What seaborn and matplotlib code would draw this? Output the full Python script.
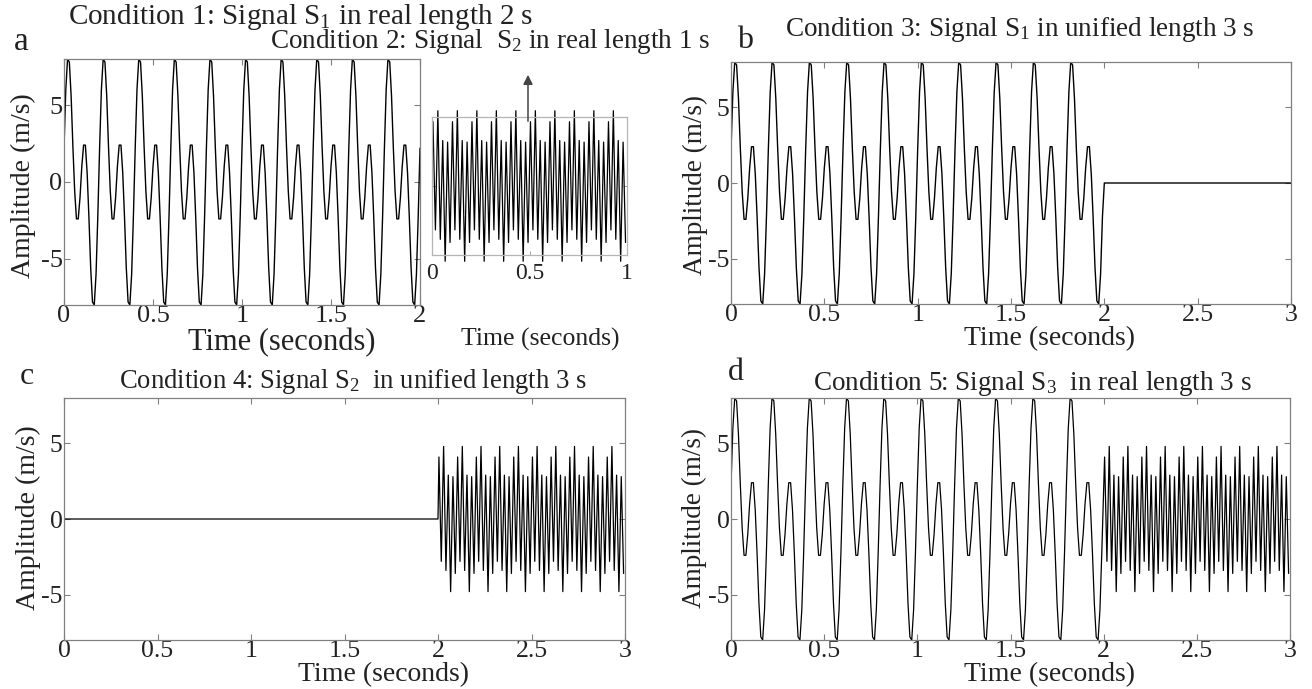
import numpy as np
import matplotlib
matplotlib.use('Agg')
import matplotlib.pyplot as plt
import seaborn as sns

# ---- data ----
# S1: one 0.2 s period, sampled every 0.01 s (m/s); repeats 10x over 2 s
s1_period = [2.2, 6.0, 8.0, 7.8, 5.6, 2.3, -0.6, -2.4, -2.4, -1.0,
             1.0, 2.4, 2.4, 0.6, -2.3, -5.6, -7.8, -8.0, -6.0, -2.2]
s1_dt = 0.01
s1_repeats = 10

# S2: extrema of one 0.1 s period, every 0.0125 s starting at 0.005 s; repeats 10x over 1 s
s2_period = [4.1, -2.8, 4.8, -3.4, 2.9, -4.8, 2.8, -3.6]
s2_dt = 0.0125
s2_t0 = 0.005
s2_repeats = 10

titles = ['Condition 1: Signal S$_1$ in real length 2 s',
          'Condition 2: Signal  S$_2$ in real length 1 s',
          'Condition 3: Signal S$_1$ in unified length 3 s',
          'Condition 4: Signal S$_2$  in unified length 3 s',
          'Condition 5: Signal S$_3$  in real length 3 s']
panel_letters = ['a', 'b', 'c', 'd']
x_ticks_2s = [0, 0.5, 1, 1.5, 2]
x_ticks_3s = [0, 0.5, 1, 1.5, 2, 2.5, 3]
x_labels_2s = ['0', '0.5', '1', '1.5', '2']
x_labels_3s = ['0', '0.5', '1', '1.5', '2', '2.5', '3']
inset_ticks = [0, 0.5, 1]
inset_labels = ['0', '0.5', '1']
y_ticks = [-5, 0, 5]
y_labels = ['-5', '0', '5']

# ---- build the series ----
s1 = np.tile(s1_period, s1_repeats)
t1 = np.arange(len(s1)) * s1_dt                  # 0 .. 1.99
t1_full = np.append(t1, len(s1) * s1_dt)         # with t = 2 s
s1_full = np.append(s1, s1_period[0])
s2 = np.tile(s2_period, s2_repeats)
t2 = s2_t0 + np.arange(len(s2)) * s2_dt
pad_t = np.arange(0, 101) * 0.01                 # 1 s of zeros

sns.set_style('ticks')
plt.rcParams['font.family'] = ['Liberation Serif', 'DejaVu Serif']
plt.rcParams['mathtext.fontset'] = 'custom'
plt.rcParams['mathtext.rm'] = 'Liberation Serif'
plt.rcParams['mathtext.it'] = 'Liberation Serif:italic'

W, H = 1312, 689
fig = plt.figure(figsize=(W / 100, H / 100), dpi=100)


def box(l, t, r, b):
    return [l / W, 1 - b / H, (r - l) / W, (b - t) / H]


def ftext(x, y, s, size, **kw):
    fig.text(x / W, 1 - y / H, s, fontsize=size, ha='center', va='center', color='#222222', **kw)


def style(ax, xt, xl, xmax, lsize=19):
    ax.set_xlim(0, xmax)
    ax.set_ylim(-8, 8)
    ax.set_xticks(xt)
    ax.set_xticklabels(xl)
    ax.set_yticks(y_ticks)
    ax.set_yticklabels(y_labels)
    ax.tick_params(direction='in', length=4, width=0.8, color='#808080', top=True, right=True,
                   labelsize=lsize, labelcolor='#222222')
    ax.tick_params(axis='x', pad=0)
    ax.tick_params(axis='y', pad=1)
    for sp in ax.spines.values():
        sp.set_color('#808080')
        sp.set_linewidth(0.9)
    ax.set_xlabel('')
    ax.set_ylabel('')


line_kw = dict(color='black', linewidth=1.0, estimator=None, sort=False)

# a: S1 in real length
ax_a = fig.add_axes(box(64, 59, 420, 305))
sns.lineplot(x=t1_full, y=s1_full, ax=ax_a, **line_kw)
style(ax_a, x_ticks_2s, x_labels_2s, 2, lsize=19)

# inset: S2 in real length
ax_in = fig.add_axes(box(432, 117, 627, 255))
sns.lineplot(x=t2, y=s2, ax=ax_in, color='black', linewidth=0.9, estimator=None, sort=False)
ax_in.lines[-1].set_clip_on(False)
ax_in.set_xlim(0, 1)
ax_in.set_ylim(-4.4, 4.4)
ax_in.set_xticks(inset_ticks)
ax_in.set_xticklabels(inset_labels)
ax_in.set_yticks([0])
ax_in.set_yticklabels([])
ax_in.tick_params(direction='in', length=3, width=0.7, color='#a0a0a0', right=True,
                  labelsize=17, labelcolor='#222222', pad=6)
for sp in ax_in.spines.values():
    sp.set_color('#b5b5b5')
    sp.set_linewidth(0.9)
ax_in.set_xlabel('')
ax_in.set_ylabel('')

# b: S1 padded to 3 s
ax_b = fig.add_axes(box(731, 62, 1291, 304))
sns.lineplot(x=np.concatenate([t1, 2 + pad_t]), y=np.concatenate([s1, np.zeros(len(pad_t))]),
             ax=ax_b, **line_kw)
style(ax_b, x_ticks_3s, x_labels_3s, 3, lsize=18.5)

# c: S2 padded to 3 s
ax_c = fig.add_axes(box(64, 398, 625, 640))
pad2 = np.arange(0, 201) * 0.01
sns.lineplot(x=np.concatenate([pad2, 2 + t2]), y=np.concatenate([np.zeros(len(pad2)), s2]),
             ax=ax_c, color='black', linewidth=0.9, estimator=None, sort=False)
style(ax_c, x_ticks_3s, x_labels_3s, 3, lsize=18.5)

# d: S3 = S1 followed by S2
ax_d = fig.add_axes(box(731, 398, 1290, 640))
sns.lineplot(x=np.concatenate([t1, 2 + t2]), y=np.concatenate([s1, s2]),
             ax=ax_d, color='black', linewidth=0.9, estimator=None, sort=False)
style(ax_d, x_ticks_3s, x_labels_3s, 3, lsize=18.5)

# titles and letters
ftext(301, 17, titles[0], 21)
ftext(490, 42, titles[1], 19.5)
ftext(1020, 30, titles[2], 19.5)
ftext(353, 381, titles[3], 19.2)
ftext(1032, 383, titles[4], 19.5)
ftext(21, 42, panel_letters[0], 24)
ftext(745, 41, panel_letters[1], 23)
ftext(27, 376, panel_letters[2], 23)
ftext(736, 372, panel_letters[3], 23)

# axis labels
ftext(282, 343, 'Time (seconds)', 22)
ftext(540, 339, 'Time (seconds)', 18.5)
ftext(1050, 339, 'Time (seconds)', 20)
ftext(384, 675, 'Time (seconds)', 20)
ftext(1050, 675, 'Time (seconds)', 20)
ftext(23, 186, 'Amplitude (m/s)', 20, rotation=90)
ftext(695, 185, 'Amplitude (m/s)', 19.5, rotation=90)
ftext(28, 518, 'Amplitude (m/s)', 20, rotation=90)
ftext(694, 518, 'Amplitude (m/s)', 19.5, rotation=90)

# arrow pointing from the inset to its title
fig.add_artist(matplotlib.patches.FancyArrowPatch((528 / W, 1 - 124 / H), (528 / W, 1 - 72 / H),
                                                  transform=fig.transFigure, arrowstyle='-|>',
                                                  mutation_scale=14, color='#444444', linewidth=1.1))

fig.savefig('out.png', dpi=100)
